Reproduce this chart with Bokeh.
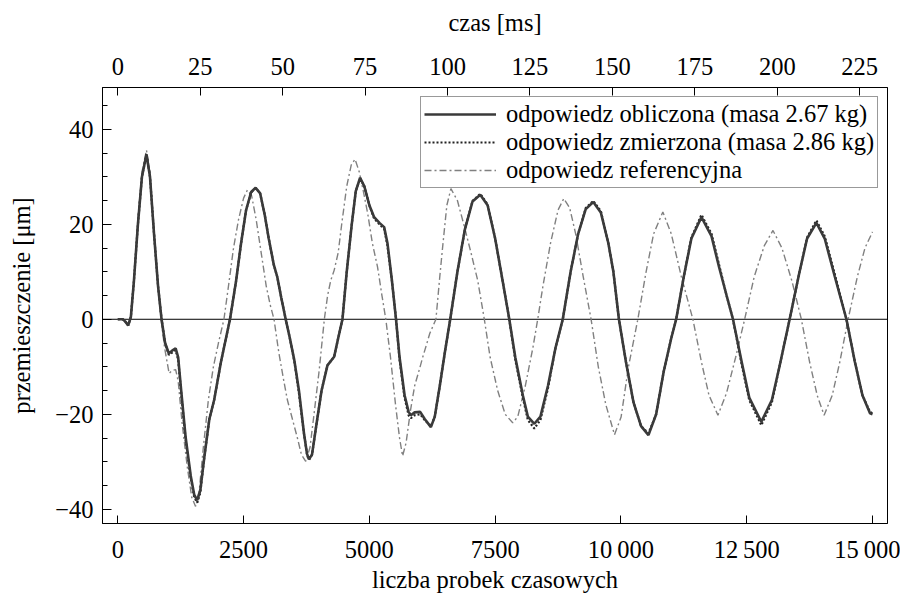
from bokeh.plotting import figure
from bokeh.models import (Range1d, LinearAxis, FixedTicker, Span, Legend, LegendItem)
from bokeh.embed import file_html
from bokeh.resources import INLINE

# ---------------- data ----------------
calc_x = [0, 100, 150, 207, 260, 320, 400, 480, 570, 640, 720, 800, 870, 940, 1015, 1080, 1150, 1200,
          1260, 1350, 1450, 1520, 1580, 1640, 1720, 1820, 1915, 2050, 2230, 2350, 2450, 2550, 2650,
          2740, 2830, 2920, 3000, 3100, 3170, 3250, 3337, 3420, 3508, 3600, 3700, 3760, 3800, 3860, 3950,
          4050, 4167, 4300, 4380, 4465, 4550, 4650, 4730, 4816, 4900, 5000, 5095, 5200, 5294, 5360,
          5450, 5530, 5600, 5700, 5780, 5825, 5900, 6010, 6100, 6223, 6300, 6400, 6500, 6607, 6750,
          6900, 7050, 7204, 7350, 7500, 7650, 7781, 7900, 8050, 8150, 8279, 8400, 8550, 8700, 8844,
          9000, 9150, 9300, 9450, 9600, 9750, 9850, 9960, 10100, 10250, 10400, 10547, 10700, 10850,
          11000, 11098, 11250, 11400, 11600, 11800, 11950, 12100, 12227, 12400, 12550, 12790, 13000,
          13150, 13353, 13550, 13700, 13885, 14050, 14250, 14482, 14650, 14800, 14950, 15000]
calc_y = [0, 0, -0.5, -1.3, 0.5, 8, 20, 30, 34.7, 30, 18, 7, 0, -5, -7.2, -6.6, -6.1, -8,
          -15, -25, -33, -37, -38.1, -36, -29, -21, -17, -9, 0, 8, 16, 23, 26.8,
          27.7, 26.5, 22, 17, 11.5, 8.9, 4.5, 0, -4, -8.6, -15, -24, -28.3, -29.5, -28.5, -22,
          -15, -9.7, -7.9, -4, 0, 10, 20, 27, 29.8, 28, 24, 21.5, 20.3, 19.4, 16,
          8, 0, -8, -16, -19.5, -20.2, -19.6, -19.5, -21, -22.7, -20.5, -14, -7, 0, 10,
          19, 24.8, 26.2, 24, 17, 8, 0, -8, -16, -20.5, -22, -20.5, -14, -6, 0,
          10, 18, 23.2, 24.7, 22.5, 16, 10, 0, -9, -17.5, -22.5, -24.4, -20, -11,
          -4, 0, 9, 17, 21.5, 17.5, 11, 5, 0, -9, -16.5, -21.6, -17,
          -10, 0, 10, 17, 20.3, 17, 9, 0, -9, -16, -19.8, -20]

meas_x = calc_x
meas_y = [0, 0, -0.5, -1.3, 0.5, 8, 20, 30, 34.9, 30, 18, 7, 0, -5, -7.5, -7, -6.5, -8.5,
          -15.5, -25.5, -33.5, -37.5, -38.6, -36.5, -29, -21, -17, -9, 0, 8, 16, 23, 26.7,
          27.6, 26.5, 22, 17, 11.5, 8.9, 4.5, 0, -4, -8.8, -15.5, -24, -28.4, -29.6, -28.5, -22,
          -15, -9.7, -7.9, -4, 0, 10, 20, 27, 29.6, 28, 24, 21.2, 20, 19, 15.5,
          8, 0, -8.5, -16.5, -20.2, -20.8, -20.2, -20, -21.2, -22.5, -20.5, -14, -7, 0, 10,
          19, 24.9, 26.4, 24.2, 17, 8, 0, -8.5, -16.5, -21.2, -23, -21.2, -14.5, -6, 0,
          10, 18, 23.4, 24.9, 22.8, 16, 10, 0, -9, -17.5, -22.5, -24.0, -20, -11,
          -4, 0, 9, 17.2, 22, 18, 11.5, 5, 0, -9.5, -17, -22.3, -17.5,
          -10, 0, 10, 17.2, 20.8, 17.5, 9.5, 0, -9, -16, -19.5, -19.8]

ref_x = [0, 100, 150, 207, 260, 320, 400, 480, 570, 640, 720, 800, 860, 930, 1020, 1080, 1150, 1200,
         1280, 1380, 1470, 1546, 1620, 1700, 1800, 1900, 2000, 2110, 2200, 2300, 2400, 2500, 2575,
         2660, 2750, 2850, 2950, 3030, 3105, 3200, 3300, 3371, 3470, 3570, 3650, 3735, 3820, 3900,
         4000, 4105, 4170, 4233, 4300, 4380, 4450, 4550, 4640, 4716, 4800, 4880, 4968, 5060, 5163,
         5250, 5327, 5420, 5520, 5600, 5660, 5730, 5820, 5900, 5990, 6060, 6123, 6200, 6323, 6400,
         6456, 6540, 6621, 6750, 6891, 7020, 7153, 7285, 7400, 7550, 7700, 7849, 7950, 8100, 8250,
         8346, 8450, 8600, 8750, 8864, 8980, 9100, 9250, 9407, 9550, 9700, 9872, 10003, 10150,
         10336, 10500, 10650, 10833, 11000, 11200, 11430, 11600, 11750, 11928, 12100, 12280, 12459,
         12650, 12850, 13022, 13200, 13400, 13586, 13750, 13900, 14038, 14200, 14350, 14515, 14700,
         14850, 15000]
ref_y = [0, 0, -0.5, -1.3, 0.5, 8, 21, 31, 35.6, 31, 19, 7, 0, -6, -11.4, -10.8, -10.6, -13,
         -22, -31, -37.5, -39.4, -36, -27, -17, -10, -5, 0, 7, 15, 21, 25.5, 27.2,
         26, 21, 14, 7, 3, 0, -7, -13, -17, -21, -25, -28.5, -29.9, -27, -20,
         -11, 0, 5, 8.2, 10.3, 14, 20, 28, 32.5, 33.7, 31, 27, 22.2, 16, 11,
         5, 0, -8, -18, -25, -28.8, -26, -19, -14, -10.7, -8, -5.8, -3, 0, 9,
         15.2, 24, 27.5, 25, 19.4, 14, 8.2, 0, -8, -15, -20, -21.8, -20.5, -14, -6,
         0, 7, 16, 23, 25.4, 23.5, 18, 9, 0, -10, -18, -24.3, -20.6, -10,
         0, 10, 18, 22.6, 18, 9, 0, -9, -16, -20.2, -15.5, -8, 0,
         9, 15.5, 18.7, 15, 8, 0, -9, -16, -20.2, -16, -9, 0, 9,
         15, 18.4]

x_ticks = [0, 2500, 5000, 7500, 10000, 12500, 15000]
x_tick_labels = ["0", "2500", "5000", "7500", "10\u2009000", "12\u2009500", "15\u2009000"]
ms_ticks = [0, 25, 50, 75, 100, 125, 150, 175, 200, 225]
y_ticks = [-40, -20, 0, 20, 40]
y_tick_labels = ["\u221240", "\u221220", "0", "20", "40"]
y_minor = [-40, -35, -30, -25, -20, -15, -10, -5, 0, 5, 10, 15, 20, 25, 30, 35, 40, 45]
samples_per_ms = 65.536

labels = ["odpowiedz obliczona (masa 2.67 kg)",
          "odpowiedz zmierzona (masa 2.86 kg)",
          "odpowiedz referencyjna"]

# ---------------- figure ----------------
FONT = "Liberation Serif"
FS = "24.5px"
x0, x1 = -304, 15298

p = figure(width=900, height=596, output_backend="svg", toolbar_location=None,
           x_range=Range1d(x0, x1), y_range=Range1d(-43.0, 48.8),
           min_border_left=102, min_border_right=13, min_border_top=87, min_border_bottom=73,
           x_axis_location=None, y_axis_location=None)
p.xgrid.visible = False
p.ygrid.visible = False
p.outline_line_color = "black"
p.outline_line_width = 1
p.background_fill_color = "white"
p.border_fill_color = "white"

p.extra_x_ranges = {"ms": Range1d(x0 / samples_per_ms, x1 / samples_per_ms)}


def style_axis(ax):
    ax.axis_line_color = "black"
    ax.major_tick_line_color = "black"
    ax.minor_tick_line_color = "black"
    ax.major_tick_out = 0
    ax.minor_tick_out = 0
    ax.major_label_text_font = FONT
    ax.major_label_text_font_size = FS
    ax.major_label_text_color = "black"
    ax.axis_label_text_font = FONT
    ax.axis_label_text_font_size = FS
    ax.axis_label_text_font_style = "normal"
    ax.axis_label_text_color = "black"


xa = LinearAxis(ticker=FixedTicker(ticks=x_ticks, minor_ticks=[]))
style_axis(xa)
xa.major_label_overrides = dict(zip(x_ticks, x_tick_labels))
xa.major_tick_in = 8
xa.major_label_standoff = 12
xa.axis_label = "liczba probek czasowych"
xa.axis_label_standoff = 0
p.add_layout(xa, "below")

top = LinearAxis(x_range_name="ms", ticker=FixedTicker(ticks=ms_ticks, minor_ticks=[]))
style_axis(top)
top.major_tick_in = 8
top.major_label_standoff = 13
top.axis_label = "czas [ms]"
top.axis_label_standoff = 19
p.add_layout(top, "above")

ya = LinearAxis(ticker=FixedTicker(ticks=y_ticks, minor_ticks=y_minor))
style_axis(ya)
ya.major_label_overrides = dict(zip(y_ticks, y_tick_labels))
ya.major_tick_in = 9
ya.minor_tick_in = 5
ya.major_label_standoff = 9
ya.axis_label = "przemieszczenie [\u03bcm]"
ya.axis_label_standoff = 17
p.add_layout(ya, "left")

p.add_layout(Span(location=0, dimension="width", line_color="black", line_width=1, level="underlay"))

r_ref = p.line(ref_x, ref_y, line_color="#808080", line_width=1.4, line_dash="7 3 2 3")
r_meas = p.line(meas_x, meas_y, line_color="#222222", line_width=2.2, line_dash="2 2")
r_calc = p.line(calc_x, calc_y, line_color="#3a3a3a", line_width=2.6)

legend = Legend(items=[LegendItem(label=labels[0], renderers=[r_calc]),
                       LegendItem(label=labels[1], renderers=[r_meas]),
                       LegendItem(label=labels[2], renderers=[r_ref])],
                location=(318, 335), margin=0, padding=3, spacing=0,
                glyph_width=72, glyph_height=20, label_standoff=10, label_height=26,
                label_text_font=FONT, label_text_font_size=FS, label_text_color="black",
                border_line_color="#333333", border_line_width=1,
                background_fill_color="white", background_fill_alpha=1.0)
p.add_layout(legend, "center")

open("out.html", "w").write(file_html(p, INLINE))
